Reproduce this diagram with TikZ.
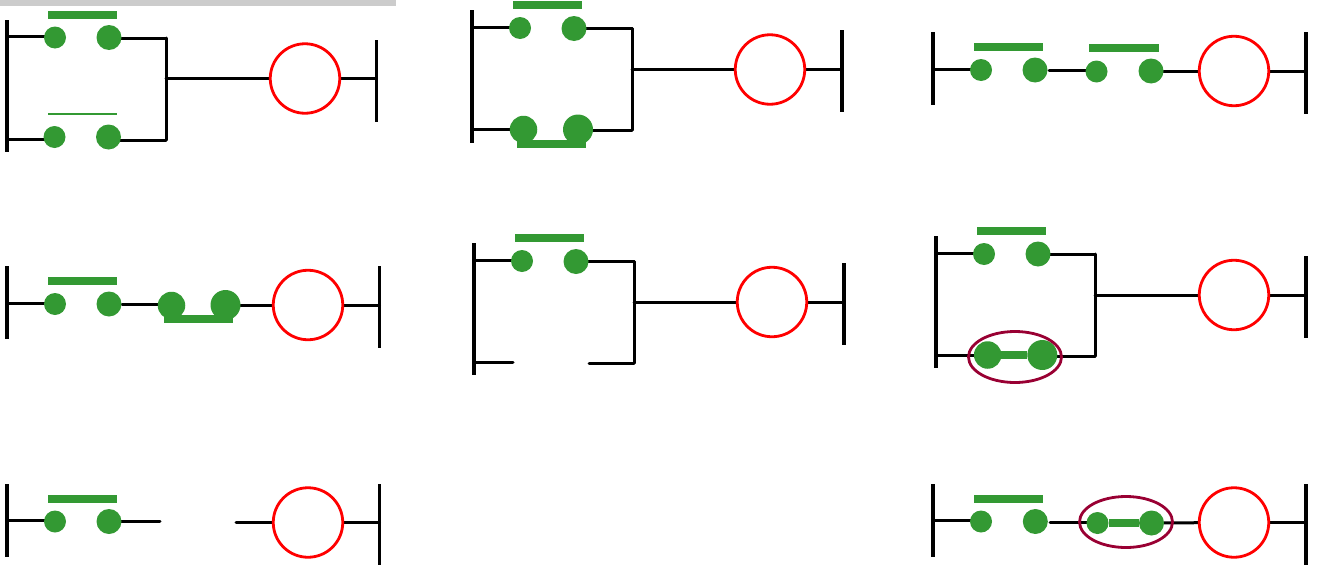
\documentclass[tikz,border=0pt]{standalone}
\usetikzlibrary{backgrounds,shapes.geometric}
\definecolor{cgreen}{RGB}{51,153,51}
\definecolor{cmaroon}{RGB}{153,0,51}
\tikzset{
  x=1pt,y=-1pt,
  wire/.style={draw=black,line width=3pt,line cap=round},
  railline/.style={draw=black,line width=3.2pt},
  dotS/.style={circle,fill=cgreen,inner sep=0,outer sep=0,minimum size=22pt},
  dotL/.style={circle,fill=cgreen,inner sep=0,outer sep=0,minimum size=25pt},
  dotM/.style={circle,fill=cgreen,inner sep=0,outer sep=0,minimum size=27.5pt},
  dotX/.style={circle,fill=cgreen,inner sep=0,outer sep=0,minimum size=30pt},
  barthick/.style={rectangle,fill=cgreen,inner sep=0,outer sep=0,minimum width=69.5pt,minimum height=8pt},
  barthin/.style={rectangle,fill=cgreen,inner sep=0,outer sep=0,minimum width=69.5pt,minimum height=2.5pt},
  link/.style={draw=cgreen,line width=7.5pt},
  coil/.style={circle,draw=red,line width=2.8pt,fill=white,inner sep=0,outer sep=0,minimum size=69.5pt},
  halo/.style={ellipse,draw=cmaroon,line width=2.8pt,inner sep=0,outer sep=0,minimum width=93pt,minimum height=51pt},
}
\begin{document}
\begin{tikzpicture}
\useasboundingbox (0,0) rectangle (1318,565);
\fill[black!20] (0,0) rectangle (396,6);

% ---------- Diagram A (top left)
\coordinate (Ar1) at (7,20); \coordinate (Ar2) at (7,152);
\coordinate (As1) at (376.5,40); \coordinate (As2) at (376.5,122);
\coordinate (Aw1) at (7,36.5); \coordinate (Aw2) at (8,139);
\coordinate (Aj1) at (166,38); \coordinate (Aj2) at (166,140);
\coordinate (Aj3) at (166,78.5); \coordinate (Ae) at (376.5,78.5);
\node[barthick] (Ab1) at (82.5,15) {};
\node[barthin] (Ab2) at (82.5,114) {};
\node[dotS] (Ad1) at (55,37.5) {};
\node[dotL] (Ad2) at (109,37.5) {};
\node[dotS] (Ad3) at (54.5,137) {};
\node[dotL] (Ad4) at (108.5,137) {};
\node[coil] (Ac) at (305,78.5) {};

% ---------- Diagram B (top middle)
\coordinate (Br1) at (472,10); \coordinate (Br2) at (472,143);
\coordinate (Bs1) at (842,30); \coordinate (Bs2) at (842,112);
\coordinate (Bw1) at (472,27); \coordinate (Bw2) at (473,129.5);
\coordinate (Bj1) at (632,28.5); \coordinate (Bj2) at (632,130);
\coordinate (Bj3) at (632,69.5); \coordinate (Be) at (842,69.5);
\node[barthick] (Bb1) at (547.5,5) {};
\node[barthick] (Bb2) at (551.5,144) {};
\node[dotS] (Bd1) at (520,28) {};
\node[dotL] (Bd2) at (574,28.5) {};
\node[dotM] (Bd3) at (523.5,129.5) {};
\node[dotX] (Bd4) at (578,129.5) {};
\node[coil] (Bc) at (770,69.5) {};

% ---------- Diagram C (top right)
\coordinate (Cr1) at (933,32); \coordinate (Cr2) at (933,105);
\coordinate (Cs1) at (1306,32); \coordinate (Cs2) at (1306,114);
\coordinate (Cw1) at (933,69); \coordinate (Cw2) at (1049,70.5);
\coordinate (Ce) at (1306,71);
\node[barthick] (Cb1) at (1008.5,47) {};
\node[barthick] (Cb2) at (1124,48) {};
\node[dotS] (Cd1) at (981,70) {};
\node[dotL] (Cd2) at (1035,70) {};
\node[dotS] (Cd3) at (1096.5,71.5) {};
\node[dotL] (Cd4) at (1151,71) {};
\node[coil] (Cc) at (1234,71) {};

% ---------- Diagram D (middle left)
\coordinate (Dr1) at (7,266); \coordinate (Dr2) at (7,339);
\coordinate (Ds1) at (379.5,266); \coordinate (Ds2) at (379.5,348);
\coordinate (Dw1) at (7,303); \coordinate (Dw2) at (122,304.5);
\coordinate (De) at (379.5,305);
\node[barthick] (Db1) at (82.5,281) {};
\node[barthick] (Db2) at (198.5,319) {};
\node[dotS] (Dd1) at (55,304) {};
\node[dotL] (Dd2) at (109,304) {};
\node[dotM] (Dd3) at (171.5,305.5) {};
\node[dotX] (Dd4) at (225.5,305) {};
\node[coil] (Dc) at (308,305) {};

% ---------- Diagram E (middle centre)
\coordinate (Er1) at (474,243); \coordinate (Er2) at (474,375);
\coordinate (Es1) at (844,263); \coordinate (Es2) at (844,345);
\coordinate (Ew1) at (474,260); \coordinate (Ew2) at (475,362);
\coordinate (Ew3) at (513,362); \coordinate (Ew4) at (589,363);
\coordinate (Ej1) at (634,261.5); \coordinate (Ej2) at (634,363);
\coordinate (Ej3) at (634,302); \coordinate (Ee) at (844,302);
\node[barthick] (Eb1) at (549.5,238) {};
\node[dotS] (Ed1) at (522,261) {};
\node[dotL] (Ed2) at (576,261.5) {};
\node[coil] (Ec) at (772,302) {};

% ---------- Diagram F (middle right)
\coordinate (Fr1) at (936,236); \coordinate (Fr2) at (936,368);
\coordinate (Fs1) at (1306,256); \coordinate (Fs2) at (1306,338);
\coordinate (Fw1) at (936,253); \coordinate (Fw2) at (937,355);
\coordinate (Fj1) at (1095,254); \coordinate (Fj2) at (1095,356);
\coordinate (Fj3) at (1095,295); \coordinate (Fe) at (1306,295);
\node[barthick] (Fb1) at (1011.5,231) {};
\node[dotS] (Fd1) at (984,254) {};
\node[dotL] (Fd2) at (1038,254) {};
\node[dotM] (Fd3) at (987.7,355) {};
\node[dotX] (Fd4) at (1042.3,355) {};
\node[coil] (Fc) at (1234,295) {};

% ---------- Diagram G (bottom left)
\coordinate (Gr1) at (7,484); \coordinate (Gr2) at (7,557);
\coordinate (Gs1) at (379.5,484); \coordinate (Gs2) at (379.5,565);
\coordinate (Gw1) at (7,520.5); \coordinate (Gw2) at (160,521.5);
\coordinate (Gw3) at (236,522.5); \coordinate (Ge) at (379.5,522.5);
\node[barthick] (Gb1) at (82.5,499) {};
\node[dotS] (Gd1) at (55,521.5) {};
\node[dotL] (Gd2) at (109,521.5) {};
\node[coil] (Gc) at (308,522.5) {};

% ---------- Diagram H (bottom right)
\coordinate (Hr1) at (933,484); \coordinate (Hr2) at (933,557);
\coordinate (Hs1) at (1306,484); \coordinate (Hs2) at (1306,565);
\coordinate (Hw1) at (933,520.5); \coordinate (Hw2) at (1050,522);
\coordinate (He) at (1306,522.5);
\node[barthick] (Hb1) at (1008.5,499) {};
\node[dotS] (Hd1) at (981,521.5) {};
\node[dotL] (Hd2) at (1035.3,521.5) {};
\node[dotS] (Hd3) at (1097.5,523) {};
\node[dotL] (Hd4) at (1151.5,523) {};
\node[coil] (Hc) at (1234,522.5) {};

\begin{scope}[on background layer]
  % rails
  \foreach \p in {A,B,C,D,E,F,G,H} {
    \draw[railline] (\p r1) -- (\p r2);
    \draw[railline] (\p s1) -- (\p s2);
  }
  % A
  \draw[wire] (Aw1) -- (Aw1 -| Ad1);
  \draw[wire] (Aj1 -| Ad2) -- (Aj1);
  \draw[wire] (Aw2) -- (Aw2 -| Ad3);
  \draw[wire] (Aj2 -| Ad4) -- (Aj2);
  \draw[wire] (Aj1) -- (Aj2);
  \draw[wire] (Aj3) -- (Ac);
  \draw[wire] (Ac) -- (Ae);
  % B
  \draw[wire] (Bw1) -- (Bw1 -| Bd1);
  \draw[wire] (Bj1 -| Bd2) -- (Bj1);
  \draw[wire] (Bw2) -- (Bw2 -| Bd3);
  \draw[wire] (Bj2 -| Bd4) -- (Bj2);
  \draw[wire] (Bj1) -- (Bj2);
  \draw[wire] (Bj3) -- (Bc);
  \draw[wire] (Bc) -- (Be);
  % C
  \draw[wire] (Cw1) -- (Cw1 -| Cd1);
  \draw[wire] (Cw2) -- (Cw2 -| Cd3);
  \draw[wire] (Cd4) -- (Cc);
  \draw[wire] (Cc) -- (Ce);
  % D
  \draw[wire] (Dw1) -- (Dw1 -| Dd1);
  \draw[wire] (Dw2) -- (Dw2 -| Dd3);
  \draw[wire] (Dd4) -- (Dc);
  \draw[wire] (Dc) -- (De);
  % E
  \draw[wire] (Ew1) -- (Ew1 -| Ed1);
  \draw[wire] (Ej1 -| Ed2) -- (Ej1);
  \draw[wire] (Ew2) -- (Ew3);
  \draw[wire] (Ew4) -- (Ej2);
  \draw[wire] (Ej1) -- (Ej2);
  \draw[wire] (Ej3) -- (Ec);
  \draw[wire] (Ec) -- (Ee);
  % F
  \draw[wire] (Fw1) -- (Fw1 -| Fd1);
  \draw[wire] (Fj1 -| Fd2) -- (Fj1);
  \draw[wire] (Fw2) -- (Fw2 -| Fd3);
  \draw[wire] (Fj2 -| Fd4) -- (Fj2);
  \draw[wire] (Fj1) -- (Fj2);
  \draw[wire] (Fj3) -- (Fc);
  \draw[wire] (Fc) -- (Fe);
  % G
  \draw[wire] (Gw1) -- (Gw1 -| Gd1);
  \draw[wire] (Gw2 -| Gd2) -- (Gw2);
  \draw[wire] (Gw3) -- (Gc);
  \draw[wire] (Gc) -- (Ge);
  % H
  \draw[wire] (Hw1) -- (Hw1 -| Hd1);
  \draw[wire] (Hw2) -- (Hw2 -| Hd3);
  \draw[wire] (Hd4) -- (Hc);
  \draw[wire] (Hc) -- (He);
  % closed links
  \draw[link] (Fd3) -- (Fd4);
  \draw[link] (Hd3) -- (Hd4);
\end{scope}

\node[halo] (Fh) at (1015,357) {};
\node[halo] (Hh) at (1126,522) {};
\end{tikzpicture}
\end{document}
